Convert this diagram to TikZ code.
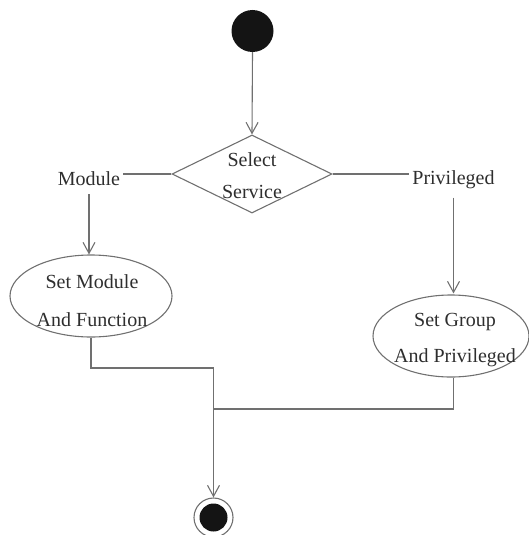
\documentclass[tikz,border=0pt]{standalone}
\usepackage{fontspec}
\setmainfont{Liberation Serif}
\usetikzlibrary{arrows.meta,shapes.geometric}
\definecolor{edgegray}{HTML}{707070}
\definecolor{inkgray}{HTML}{2E2E2E}
\begin{document}
\begin{tikzpicture}[x=1pt,y=-1pt,
  flow/.style={draw=edgegray,line width=1.1pt},
  flowarrow/.style={flow,-{Straight Barb[length=11pt,width=12pt]}},
  txt/.style={text=inkgray,font=\fontsize{20}{20}\selectfont,inner xsep=3pt,inner ysep=9pt},
  caption/.style={text=inkgray,align=center,inner sep=0pt},
  activity/.style={ellipse,draw=edgegray,line width=1.1pt,inner sep=0pt},
  decision/.style={diamond,draw=edgegray,line width=1.1pt,inner sep=0pt,
    minimum width=160pt,minimum height=78pt},
  startdot/.style={circle,fill=black!92,inner sep=0pt,minimum size=42pt},
  enddot/.style={circle,fill=black!92,inner sep=0pt,minimum size=28pt},
  endring/.style={circle,draw=edgegray,line width=1.1pt,inner sep=0pt,minimum size=39pt}]
\useasboundingbox (0,0) rectangle (529,535);

% initial node
\node[startdot] (start) at (252.5,31) {};

% decision
\node[decision] (sel) at (252,174) {};
\node[caption,font=\fontsize{20}{32}\selectfont] (seltext) at (252,176) {Select\\Service};

% branch labels
\node[txt,anchor=base] (mod) at (89,185) {Module};
\node[txt,anchor=base] (priv) at (453.5,184) {Privileged};

% activities
\node[activity,minimum width=162pt,minimum height=82pt] (smf) at (91,296) {};
\node[caption,font=\fontsize{20}{38}\selectfont] (smftext) at (92,301) {Set Module\\And Function};
\node[activity,minimum width=156pt,minimum height=82pt] (sgp) at (451,336) {};
\node[caption,font=\fontsize{20}{36}\selectfont] (sgptext) at (455,340) {Set Group\\And Privileged};

% final node
\node[endring] (fin) at (213.5,517.5) {};
\node[enddot] (findot) at (fin.center) {};

% merge points
\coordinate (j1) at (213.5,368);
\coordinate (j2) at (213.5,409);

% connectors
\draw[flowarrow] (start.south) -- (sel.north);
\draw[flow] (sel.west) -- (sel.west -| mod.east);
\draw[flow] (sel.east) -- (sel.east -| priv.west);
\draw[flowarrow] (mod.south) -- (mod.south |- smf.north);
\draw[flowarrow] (priv.south) -- ([yshift=1pt]priv.south |- sgp.north);
\draw[flow] (smf.south) |- (j1);
\draw[flowarrow] (j1) -- (fin.north);
\draw[flow] (priv.south |- sgp.south) |- (j2);
\end{tikzpicture}
\end{document}
